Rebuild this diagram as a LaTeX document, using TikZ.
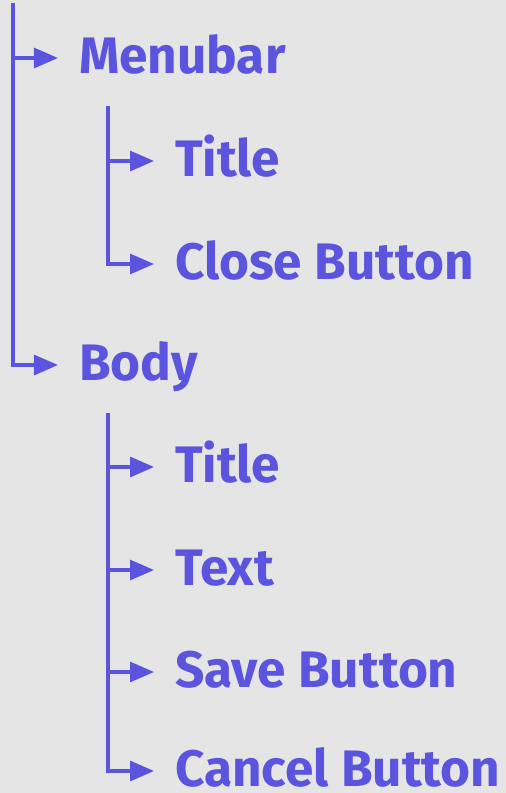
\documentclass[tikz,border=0pt]{standalone}
\usepackage{fontspec}
\setmainfont{Fira Sans}[BoldFont={Fira Sans Bold}]
\usetikzlibrary{arrows.meta}
\definecolor{ink}{RGB}{91,84,223}
\definecolor{bg}{RGB}{229,229,229}
\begin{document}
\begin{tikzpicture}[x=1bp,y=-1bp,
  item/.style={anchor=west, inner sep=0pt, text height=31bp, text depth=0pt,
    font=\bfseries\fontsize{51.5}{60}\selectfont, text=ink},
  conn/.style={draw=ink, line width=3.2bp, -{Triangle[length=24bp,width=20bp]}, shorten >=21bp}]
\fill[bg] (0,0) rectangle (506,793);
\useasboundingbox (0,0) rectangle (506,793);
\coordinate (t1) at (13,3);
\coordinate (t2) at (108,106);
\coordinate (t3) at (108,413);
\node[item] (menubar) at (79,58) {Menubar};
\node[item] (title1) at (175,161) {Title};
\node[item] (close) at (175,264) {Close Button};
\node[item] (body) at (79,365) {Body};
\node[item] (title2) at (175,467) {Title};
\node[item] (text) at (175,570) {Text};
\node[item] (save) at (175,672) {Save Button};
\node[item] (cancel) at (175,771) {Cancel Button};
\draw[conn] (t1) |- (menubar.west);
\draw[conn] (t1) |- (body.west);
\draw[conn] (t2) |- (title1.west);
\draw[conn] (t2) |- (close.west);
\draw[conn] (t3) |- (title2.west);
\draw[conn] (t3) |- (text.west);
\draw[conn] (t3) |- (save.west);
\draw[conn] (t3) |- (cancel.west);
\end{tikzpicture}
\end{document}
